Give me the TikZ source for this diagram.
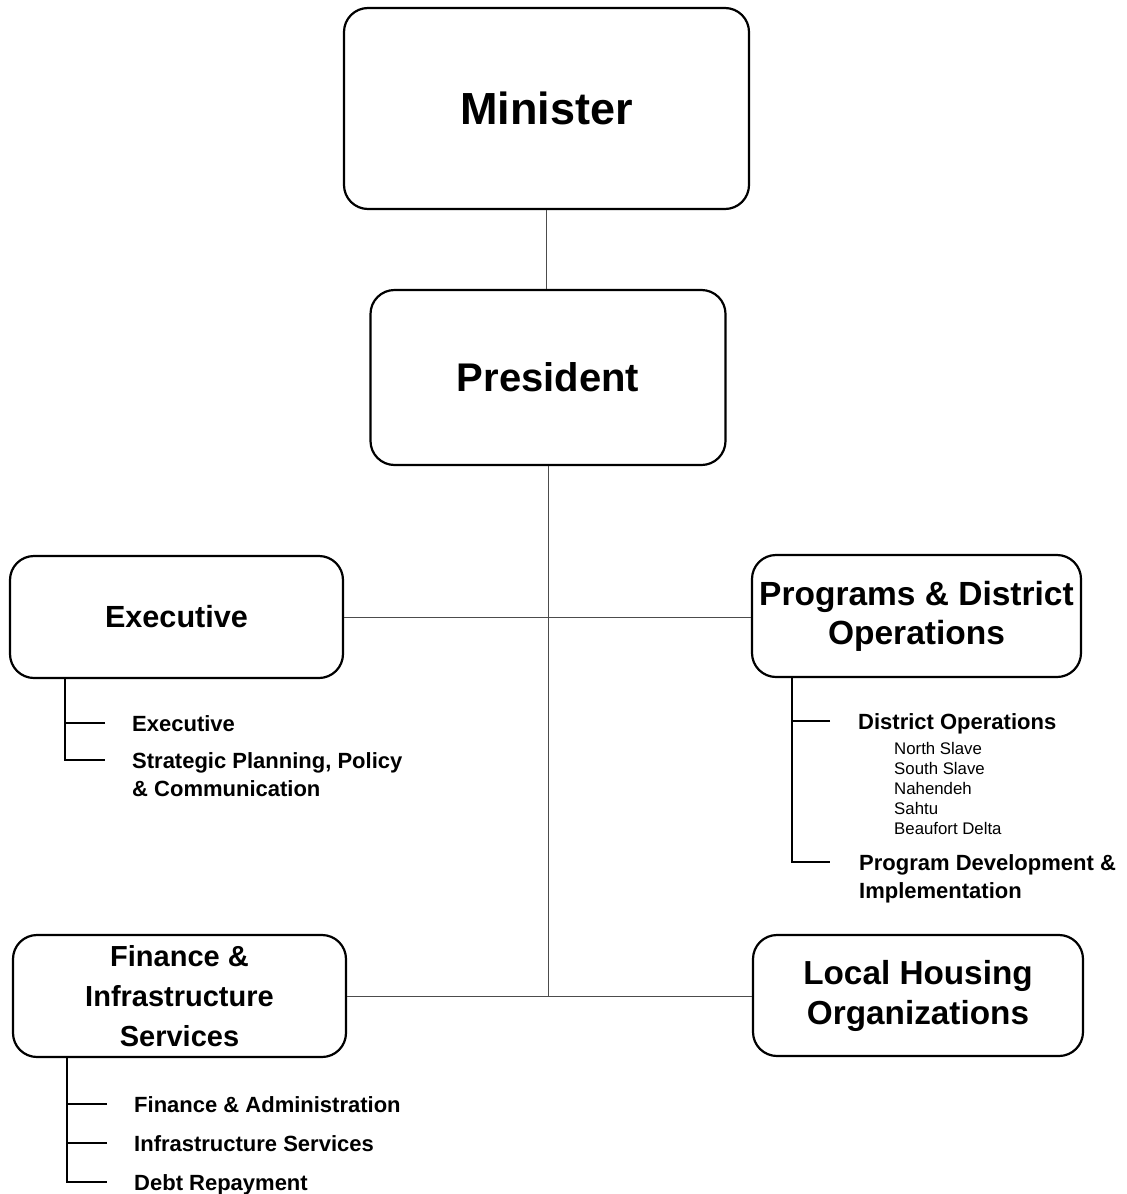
\documentclass[tikz,border=0pt]{standalone}
\usepackage{fontspec}
\setmainfont{Liberation Sans}
\usetikzlibrary{calc}

\begin{document}
\begin{tikzpicture}[x=1pt,y=-1pt,
  unit/.style={draw=black, line width=2.2pt, rounded corners=24pt, fill=white,
               align=center, inner sep=0pt},
  link/.style={draw=black!70, line width=1pt},
  branch/.style={draw=black, line width=1.6pt},
  item/.style={anchor=base west, inner sep=0pt, align=left,
               font=\fontsize{22}{28}\selectfont\bfseries},
  place/.style={anchor=base west, inner sep=0pt,
                font=\fontsize{16.8}{20}\selectfont},
]
\useasboundingbox (0,0) rectangle (1127,1194);

% main units
\node[unit, minimum width=405pt, minimum height=201pt,
      font=\fontsize{45}{50}\selectfont\bfseries] (minister) at (546.5,108.5) {Minister};
\node[unit, minimum width=355pt, minimum height=175pt,
      font=\fontsize{40}{46}\selectfont\bfseries] (president) at (548,377.5) {President};
\node[unit, minimum width=333pt, minimum height=122pt,
      font=\fontsize{30.6}{38}\selectfont\bfseries] (executive) at (176.5,617) {Executive};
\node[unit, minimum width=329pt, minimum height=122pt,
      font=\fontsize{33.5}{39}\selectfont\bfseries] (programs) at (916.5,616) {Programs \& District\\Operations};
\node[unit, minimum width=333pt, minimum height=122pt,
      font=\fontsize{29}{40}\selectfont\bfseries] (finance) at (179.5,996) {Finance \&\\Infrastructure\\Services};
\node[unit, minimum width=330pt, minimum height=121pt,
      font=\fontsize{33.3}{40}\selectfont\bfseries] (housing) at (918,995.5) {Local Housing\\Organizations};

% reporting lines
\coordinate (hub) at (president.south |- finance.east);
\draw[link] (minister.south) -- (minister.south |- president.north);
\draw[link] (president) -- (hub);
\draw[link] (executive.east) -- (executive.east -| programs.west);
\draw[link] (finance.east) -- (finance.east -| housing.west);

% Executive divisions
\node[item] (ex1) at (132,731) {Executive};
\node[item] (ex2) at (132,796) {Strategic Planning, Policy\\\& Communication};
\draw[branch] ($(executive.south west)+(56,0)$) |- ($(ex2.base west)+(-27,-36)$);
\draw[branch] ($(ex1.base west)+(-27,-8)$) -- +(-39,0);

% Programs & District Operations divisions
\node[item] (pd1) at (858,729) {District Operations};
\node[place] (r1) at (894,754) {North Slave};
\node[place] (r2) at (894,774) {South Slave};
\node[place] (r3) at (894,794) {Nahendeh};
\node[place] (r4) at (894,814) {Sahtu};
\node[place] (r5) at (894,834) {Beaufort Delta};
\node[item] (pd2) at (859,898) {Program Development \&\\Implementation};
\draw[branch] ($(programs.south west)+(41,0)$) |- ($(pd2.base west)+(-29,-36)$);
\draw[branch] ($(pd1.base west)+(-28,-8)$) -- +(-37,0);

% Finance & Infrastructure Services divisions
\node[item] (fi1) at (134,1112) {Finance \& Administration};
\node[item] (fi2) at (134,1151) {Infrastructure Services};
\node[item] (fi3) at (134,1190) {Debt Repayment};
\draw[branch] ($(finance.south west)+(55,0)$) |- ($(fi3.base west)+(-27,-8)$);
\draw[branch] ($(fi1.base west)+(-27,-8)$) -- +(-39,0);
\draw[branch] ($(fi2.base west)+(-27,-8)$) -- +(-39,0);
\end{tikzpicture}
\end{document}
